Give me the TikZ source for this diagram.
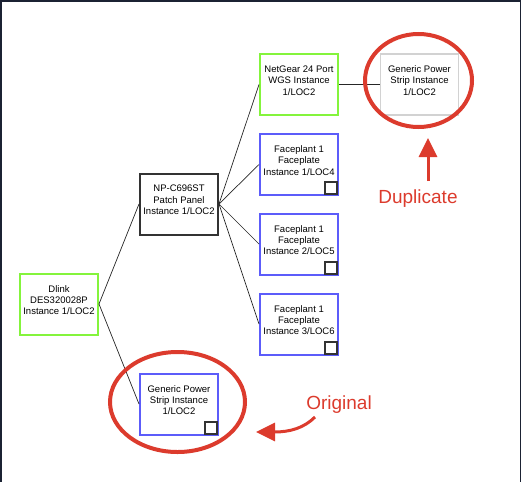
\documentclass[tikz,border=0pt]{standalone}
\usepackage{fontspec}
\setmainfont{Liberation Sans}
\usepackage{tikz}
\usepackage{xcolor}
\usetikzlibrary{arrows.meta, positioning}
\definecolor{Frame_Navy}{HTML}{1B2233}
\definecolor{Box_Green}{HTML}{84F43C}
\definecolor{Box_Blue}{HTML}{5C5CFA}
\definecolor{Box_Gray}{HTML}{D2D2D2}
\definecolor{Box_Dark}{HTML}{333333}
\definecolor{Note_Red}{HTML}{DC3B2D}

\begin{document}
\begin{tikzpicture}[x=1pt, y=-1pt,
    devbox/.style={draw, line width=2pt, minimum width=78pt, minimum height=61pt, inner sep=0pt},
    devtext/.style={align=center, font=\fontsize{9.5}{11.3}\selectfont, inner sep=0pt},
    flag/.style={draw=Box_Dark, fill=white, line width=2pt, minimum size=12pt, inner sep=0pt},
    wire/.style={line width=0.7pt, black!85},
    ring/.style={draw=Note_Red, line width=4pt},
    note/.style={text=Note_Red, font=\fontsize{19}{22}\selectfont, inner sep=0pt, anchor=base},
    pointer/.style={draw=Note_Red, line width=3pt, -{Triangle[length=19pt, width=18pt]}}]
    \useasboundingbox (0,0) rectangle (521,482);

    % Frame
    \draw[Frame_Navy, line width=3pt] (0,482) -- (0,0) -- (521,0) -- (521,482);

    % Devices
    \node[devbox, draw=Box_Green] (dlink) at (59,304) {};
    \node[devbox, draw=Box_Dark] (patch) at (179,204) {};
    \node[devbox, draw=Box_Blue] (orig) at (179,404) {};
    \node[devbox, draw=Box_Green] (netgear) at (299,84.5) {};
    \node[devbox, draw=Box_Gray, line width=1.5pt] (dup) at (419.5,84.5) {};
    \foreach \n/\y in {1/164.5, 2/244, 3/324} {
        \node[devbox, draw=Box_Blue] (face\n) at (299,\y) {};
    }

    % Device texts
    \node[devtext] (dlink-t) at ([yshift=4pt]dlink.center) {Dlink\\DES320028P\\Instance 1/LOC2};
    \node[devtext] (patch-t) at ([yshift=4pt]patch.center) {NP-C696ST\\Patch Panel\\Instance 1/LOC2};
    \node[devtext] (orig-t) at ([yshift=4pt]orig.center) {Generic Power\\Strip Instance\\1/LOC2};
    \node[devtext] (netgear-t) at ([yshift=4pt]netgear.center) {NetGear 24 Port\\WGS Instance\\1/LOC2};
    \node[devtext] (dup-t) at ([yshift=4pt]dup.center) {Generic Power\\Strip Instance\\1/LOC2};
    \foreach \n/\loc in {1/4, 2/5, 3/6} {
        \node[devtext] (face\n-t) at ([yshift=4pt]face\n.center) {Faceplant 1\\Faceplate\\Instance \n/LOC\loc};
        \node[flag] (face\n-f) at ([shift={(-8,-8)}]face\n.south east) {};
    }
    \node[flag] (orig-f) at ([shift={(-8,-8)}]orig.south east) {};

    % Wires
    \draw[wire] (dlink.east) -- (patch.west);
    \draw[wire] (dlink.east) -- (orig.west);
    \draw[wire] (patch.east) -- (netgear.west);
    \foreach \n in {1,2,3} {
        \draw[wire] (patch.east) -- (face\n.west);
    }
    \draw[wire] (netgear.east) -- (dup.west);

    % Rings
    \draw[ring] (418.5,80.5) ellipse [x radius=53.5, y radius=46.5];
    \draw[ring] (177.5,402) ellipse [x radius=67.5, y radius=50];

    % Notes
    \node[note] (dup-note) at (418,203) {Duplicate};
    \node[note] (orig-note) at (339,409) {Original};
    \coordinate (dup-tail) at (428,181);
    \coordinate (dup-tip) at (428,138);
    \draw[pointer] (dup-tail) -- (dup-tip);
    \coordinate (orig-tail) at (315,417);
    \coordinate (orig-tip) at (256,432);
    \draw[pointer] (orig-tail) .. controls (304,428) and (290,432) .. (orig-tip);
\end{tikzpicture}
\end{document}
